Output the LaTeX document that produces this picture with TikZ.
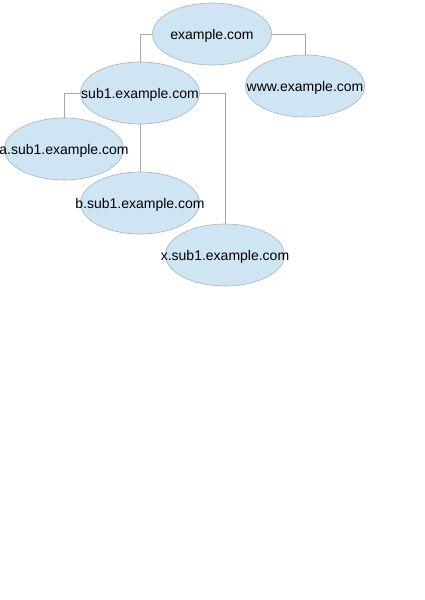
\documentclass[tikz,border=0pt]{standalone}
\usepackage{fontspec}
\setmainfont{Liberation Sans}
\usetikzlibrary{shapes.geometric}
\definecolor{nodefill}{HTML}{CFE5F3}
\definecolor{nodeline}{HTML}{A9B4BC}
\definecolor{wire}{HTML}{A8A8A8}
\begin{document}
\begin{tikzpicture}[x=1pt,y=1pt,
  dom/.style={ellipse, draw=nodeline, fill=nodefill, line width=0.6pt,
    minimum width=119pt, minimum height=62pt, inner sep=0pt,
    label={[font=\fontsize{14}{16}\selectfont, text=black, inner sep=0pt, yshift=-1.5pt]center:#1}},
  wirestyle/.style={draw=wire, line width=0.7pt}]
\useasboundingbox (0,0) rectangle (424,-600);
\node[dom={example.com}] (ex) at (212,-34) {};
\node[dom={www.example.com}] (www) at (305,-86) {};
\node[dom={sub1.example.com}] (sub) at (140,-93) {};
\node[dom={a.sub1.example.com}] (a) at (64,-149) {};
\node[dom={b.sub1.example.com}] (b) at (140,-203) {};
\node[dom={x.sub1.example.com}] (xx) at (225,-255) {};
\draw[wirestyle] (ex.west) -| (sub.north);
\draw[wirestyle] (ex.east) -| (www.north);
\draw[wirestyle] (sub.west) -| (a.north);
\draw[wirestyle] (sub.south) -- (b.north);
\draw[wirestyle] (sub.east) -| (xx.north);
\end{tikzpicture}
\end{document}
